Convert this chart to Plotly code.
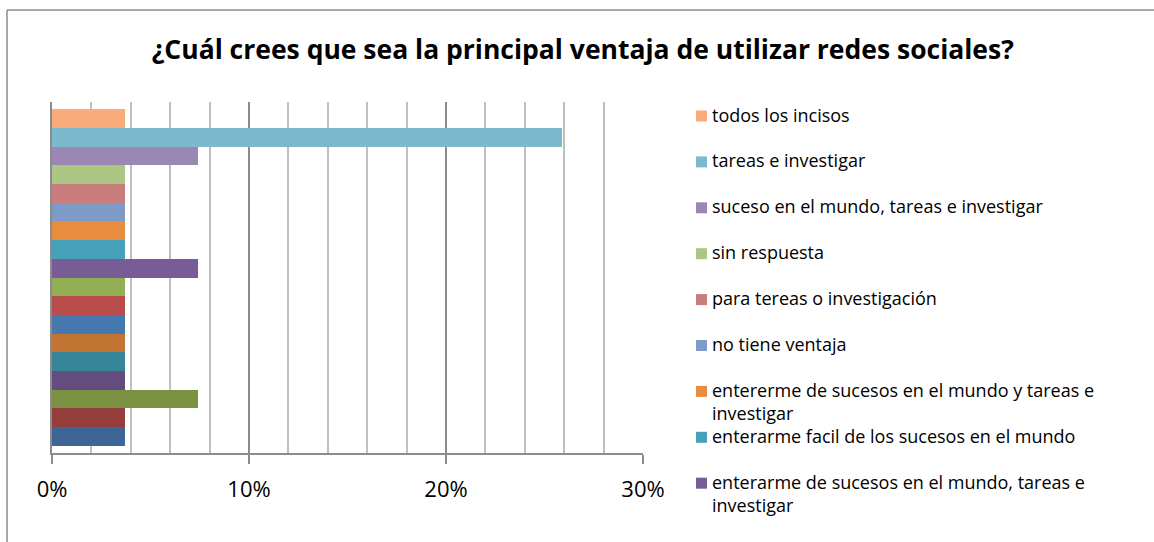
import textwrap
import plotly.graph_objects as go

# ---- data (top bar first) ----
categories = [
    "todos los incisos",
    "tareas e investigar",
    "suceso en el mundo, tareas e investigar",
    "sin respuesta",
    "para tereas o investigación",
    "no tiene ventaja",
    "entererme de sucesos en el mundo y tareas e investigar",
    "enterarme facil de los sucesos en el mundo",
    "enterarme de sucesos en el mundo, tareas e investigar",
    "serie oculta 10",
    "serie oculta 11",
    "serie oculta 12",
    "serie oculta 13",
    "serie oculta 14",
    "serie oculta 15",
    "serie oculta 16",
    "serie oculta 17",
    "serie oculta 18",
]
values = [0.037, 0.259, 0.074, 0.037, 0.037, 0.037, 0.037, 0.037, 0.074,
          0.037, 0.037, 0.037, 0.037, 0.037, 0.037, 0.074, 0.037, 0.037]
colors = ["#F9AB7A", "#7CB9CE", "#9B88B2", "#ADC585", "#C97D7C", "#7E9AC6",
          "#E88C3F", "#47A1BA", "#775C96", "#93AF55", "#B84C4A", "#4678B0",
          "#C27532", "#378598", "#634D7F", "#7A9142", "#943D3B", "#3D6595"]
legend_count = 9  # entries visible in the legend
x_ticks = [0, 0.1, 0.2, 0.3]
title_text = "¿Cuál crees que sea la principal ventaja de utilizar redes sociales?"

# ---- layout geometry ----
W, H = 1154, 542
L, R, T, B = 52, 643, 102, 453
pw, ph = R - L, B - T

def px2x(px):
    return (px - L) / pw

def px2y(py):
    return (B - py) / ph

FONT = "Open Sans"

fig = go.Figure()
fig.add_trace(go.Bar(
    y=categories, x=values, orientation="h",
    marker=dict(color=colors, line=dict(width=0)),
    showlegend=False, hoverinfo="x+y",
))

n = len(categories)
fig.update_layout(
    width=W, height=H,
    margin=dict(l=L, r=W - R, t=T, b=H - B, pad=0),
    paper_bgcolor="white", plot_bgcolor="white",
    bargap=0,
    font=dict(family=FONT, color="#000000"),
    title=dict(text="<b>" + title_text + "</b>", x=0.505, xanchor="center",
               y=1 - 50 / H, yanchor="middle",
               font=dict(family=FONT, size=26.5, color="#000000")),
    xaxis=dict(range=[0, 0.30], tickvals=x_ticks, tickformat=".0%",
               showgrid=True, gridcolor="#8C8C8C", gridwidth=1.5,
               minor=dict(dtick=0.02, showgrid=True, gridcolor="#BFBFBF",
                          gridwidth=1.5),
               showline=True, linecolor="#8C8C8C", linewidth=1.5,
               ticks="outside", ticklen=9, tickcolor="#8C8C8C", tickwidth=1.5,
               ticklabelstandoff=7,
               tickfont=dict(family=FONT, size=22, color="#000000"),
               zeroline=False, fixedrange=True),
    yaxis=dict(type="category", range=[n - 1 + 0.9, -0.9],
               showticklabels=False, showgrid=False, zeroline=False,
               showline=True, linecolor="#8C8C8C", linewidth=1.5,
               fixedrange=True),
)

# chart border (left and top edges visible in the reference)
fig.add_shape(type="line", xref="paper", yref="paper",
              x0=px2x(7), x1=px2x(W + 5), y0=px2y(10), y1=px2y(10),
              line=dict(color="#8C8C8C", width=1.5))
fig.add_shape(type="line", xref="paper", yref="paper",
              x0=px2x(7), x1=px2x(7), y0=px2y(10), y1=px2y(H + 5),
              line=dict(color="#8C8C8C", width=1.5))

# legend (Excel style, fixed pitch, truncated to visible entries)
first_center, pitch, line_h = 116, 45.9, 23
for i in range(legend_count):
    cy = first_center + i * pitch
    fig.add_shape(type="rect", xref="paper", yref="paper",
                  x0=px2x(696), x1=px2x(707), y0=px2y(cy - 5.5), y1=px2y(cy + 5.5),
                  fillcolor=colors[i], line=dict(width=0))
    lines = textwrap.wrap(categories[i], width=43)
    for k, ln in enumerate(lines):
        fig.add_annotation(xref="paper", yref="paper", x=px2x(710),
                           y=px2y(cy - 1.5 + k * line_h), xanchor="left",
                           yanchor="middle", text=ln, showarrow=False,
                           align="left",
                           font=dict(family=FONT, size=18, color="#000000"))

fig.write_html("out.html", config={"displayModeBar": False},
               post_script="document.body.style.margin='0';document.body.style.overflow='hidden';")
